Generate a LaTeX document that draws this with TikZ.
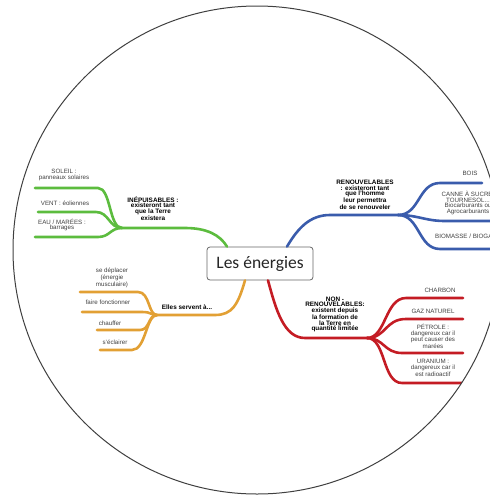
\documentclass[tikz,border=0pt]{standalone}
\usepackage{fontspec}
\setmainfont{Liberation Sans}
\newfontfamily\calib{Carlito}
\definecolor{mgreen}{RGB}{92,188,62}
\definecolor{mblue}{RGB}{58,92,172}
\definecolor{mred}{RGB}{196,28,36}
\definecolor{morange}{RGB}{226,160,52}
\begin{document}
\begin{tikzpicture}[x=1pt,y=-1pt,
 br/.style={line width=2.6pt, line cap=round},
 lab/.style={font=\fontsize{6.2}{5.6}\selectfont, text=black!75, align=center, inner sep=0pt},
 blab/.style={font=\bfseries\fontsize{6.4}{5.6}\selectfont, align=center, inner sep=0pt}]
\useasboundingbox (0,0) rectangle (490,496);
\clip (0,0) rectangle (490,496);
\begin{scope}
\clip (257,250) circle (244pt);
\node[draw=black!60, line width=0.8pt, rounded corners=3pt, minimum width=106pt, minimum height=33pt,
  font=\calib\fontsize{17.5}{17.5}\selectfont, text=black!85, fill=white] (c) at (260,263.5) {Les énergies};
% junctions
\coordinate (gJ) at (122,228);
\coordinate (bJ) at (398,215);
\coordinate (rJ) at (367,338);
\coordinate (oJ) at (157,315);
% leaf ends
\coordinate (g1) at (35,188); \coordinate (g2) at (38,212); \coordinate (g3) at (35,237);
\coordinate (b1) at (482,183); \coordinate (b2) at (496,221); \coordinate (b3) at (496,249);
\coordinate (r1) at (463,298); \coordinate (r2) at (463,319); \coordinate (r3) at (463,353); \coordinate (r4) at (462,383);
\coordinate (o1) at (80,292); \coordinate (o2) at (82,312); \coordinate (o3) at (97,330); \coordinate (o4) at (100,350);
% green
\draw[br,mgreen] ([xshift=-33pt]c.north) .. controls (220,235) and (207,228) .. (185,228) -- (gJ);
\draw[br,mgreen] (gJ) .. controls (109,228) and (111,188) .. (98,188) -- (g1);
\draw[br,mgreen] (gJ) .. controls (109,228) and (109,212) .. (96,212) -- (g2);
\draw[br,mgreen] (gJ) .. controls (110,228) and (110,237) .. (98,237) -- (g3);
% blue
\draw[br,mblue] ([xshift=27pt]c.north) .. controls (298,228) and (310,215) .. (330,215) -- (bJ);
\draw[br,mblue] (bJ) .. controls (420,215) and (418,183) .. (440,183) -- (b1);
\draw[br,mblue] (bJ) .. controls (418,215) and (425,221) .. (445,221) -- (b2);
\draw[br,mblue] (bJ) .. controls (420,215) and (418,249) .. (440,249) -- (b3);
% red
\draw[br,mred] ([xshift=8pt]c.south) .. controls (276,310) and (284,338) .. (305,338) -- (rJ);
\draw[br,mred] (rJ) .. controls (386,338) and (385,298) .. (406,298) -- (r1);
\draw[br,mred] (rJ) .. controls (386,338) and (385,319) .. (406,319) -- (r2);
\draw[br,mred] (rJ) .. controls (384,338) and (384,353) .. (402,353) -- (r3);
\draw[br,mred] (rJ) .. controls (386,338) and (382,383) .. (402,383) -- (r4);
% orange
\draw[br,morange] ([xshift=-15pt]c.south) .. controls (238,305) and (232,315) .. (215,315) -- (oJ);
\draw[br,morange] (oJ) .. controls (148,315) and (150,292) .. (138,292) -- (o1);
\draw[br,morange] (oJ) .. controls (150,315) and (152,312) .. (142,312) -- (o2);
\draw[br,morange] (oJ) .. controls (148,315) and (150,330) .. (140,330) -- (o3);
\draw[br,morange] (oJ) .. controls (146,315) and (146,350) .. (132,350) -- (o4);
% labels green
\node[lab] (tsoleil) at (64,175) {SOLEIL :\\panneaux solaires};
\node[lab] (tvent) at (65,203) {VENT : éoliennes};
\node[lab] (teau) at (62,225) {EAU / MARÉES :\\barrages};
\node[blab] (tinep) at (153,208.5) {INÉPUISABLES :\\existeront tant\\que la Terre\\existera};
% labels blue
\node[blab] (trenouv) at (365,195) {RENOUVELABLES\\: existeront tant\\que l'homme\\leur permettra\\de se renouveler};
\node[lab] (tbois) at (470,173) {BOIS};
\node[lab] (tcanne) at (468,203) {CANNE À SUCRE,\\TOURNESOL...\\Biocarburants ou\\Agrocarburants};
\node[lab,anchor=west] (tbio) at (435,236) {BIOMASSE / BIOGAZ};
% labels red
\node[blab] (tnon) at (335,314.5) {NON -\\RENOUVELABLES:\\existent depuis\\la formation de\\la Terre en\\quantité limitée};
\node[lab] (tcharbon) at (440,290) {CHARBON};
\node[lab] (tgaz) at (433,311) {GAZ NATUREL};
\node[lab] (tpetrole) at (433,336.5) {PÉTROLE :\\dangereux car il\\peut causer des\\marées};
\node[lab] (turanium) at (433,368) {URANIUM :\\dangereux car il\\est radioactif};
% labels orange
\node[lab] (tdepl) at (112,278) {se déplacer\\(énergie\\musculaire)};
\node[lab] (tfonct) at (108,302) {faire fonctionner};
\node[lab] (tchauf) at (110,323) {chauffer};
\node[lab] (tecl) at (115,342) {s'éclairer};
\node[blab] (telles) at (187,307) {Elles servent à...};
\end{scope}
\draw[line width=1pt, black!75] (257,250) circle (244pt);
\end{tikzpicture}
\end{document}
